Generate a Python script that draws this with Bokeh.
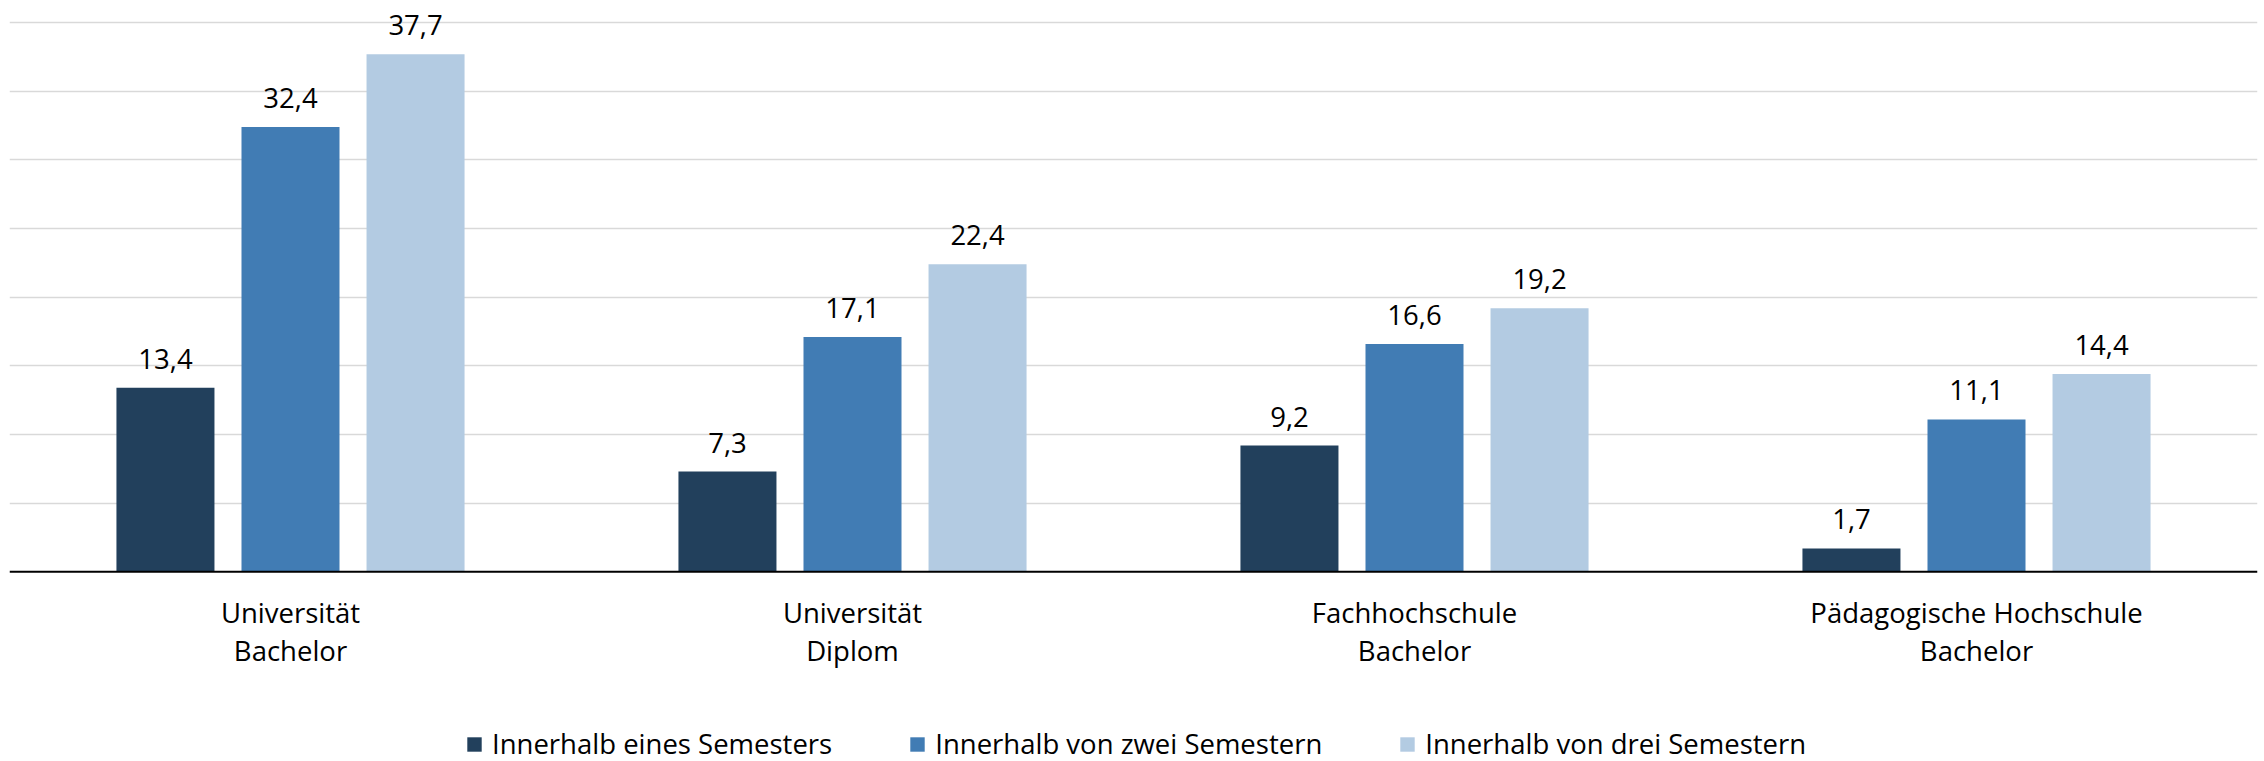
from bokeh.plotting import figure
from bokeh.models import ColumnDataSource, FactorRange, Range1d, FixedTicker, Legend, LegendItem, Grid, Span
from bokeh.transform import dodge
from bokeh.core.properties import value
from bokeh.embed import file_html
from bokeh.resources import INLINE

categories = ["Universität\nBachelor", "Universität\nDiplom", "Fachhochschule\nBachelor", "Pädagogische Hochschule\nBachelor"]
series_names = ["Innerhalb eines Semesters", "Innerhalb von zwei Semestern", "Innerhalb von drei Semestern"]
eines = [13.4, 7.3, 9.2, 1.7]
zwei = [32.4, 17.1, 16.6, 11.1]
drei = [37.7, 22.4, 19.2, 14.4]
grid_ticks = [5, 10, 15, 20, 25, 30, 35, 40]

colors = ["#22405C", "#417CB4", "#B3CBE2"]
FONT = "Open Sans"
FS = "27.5px"

def fmt(vals):
    return [("%.1f" % v).replace(".", ",") for v in vals]

src = ColumnDataSource(dict(cat=categories, zero=[0] * len(categories),
                            s0=eines, s1=zwei, s2=drei,
                            l0=fmt(eines), l1=fmt(zwei), l2=fmt(drei)))

p = figure(x_range=FactorRange(*categories), y_range=Range1d(-13.819, 41.617),
           width=2264, height=761, output_backend="svg", toolbar_location=None,
           x_axis_location=None, y_axis_location=None,
           min_border_left=9, min_border_right=7, min_border_top=0, min_border_bottom=0)

if len(p.ygrid) == 0:
    p.add_layout(Grid(dimension=1, ticker=FixedTicker(ticks=grid_ticks)), "center")
else:
    p.ygrid.ticker = FixedTicker(ticks=grid_ticks)
p.ygrid.grid_line_color = "#D9D9D9"
p.ygrid.grid_line_width = 1.3
p.xgrid.visible = False
p.outline_line_color = None
p.background_fill_color = "white"
p.border_fill_color = "white"

p.add_layout(Span(location=0, dimension="width", line_color="#000000", line_width=2))

offsets = [-0.2225, 0.0, 0.2225]
bar_w = 0.1744
renderers = []
for i, (off, c) in enumerate(zip(offsets, colors)):
    r = p.vbar(x=dodge("cat", off, range=p.x_range), top="s%d" % i, width=bar_w,
               source=src, fill_color=c, line_color=None)
    renderers.append(r)
    p.text(x=dodge("cat", off, range=p.x_range), y="s%d" % i, text="l%d" % i, source=src,
           text_align="center", text_baseline="alphabetic", y_offset=-29,
           text_font=value(FONT), text_font_size=value(FS), text_color="#000000")

# category labels under the baseline
p.text(x="cat", y="zero", text="cat", source=src, text_align="center", text_baseline="top",
       y_offset=22, text_line_height=1.025,
       text_font=value(FONT), text_font_size=value(FS), text_color="#000000")

legend = Legend(items=[LegendItem(label=n, renderers=[r]) for n, r in zip(series_names, renderers)],
                orientation="horizontal", location=(456, -1), glyph_width=18, glyph_height=18,
                label_standoff=9, spacing=76, padding=0, margin=0,
                border_line_color=None, background_fill_alpha=0,
                label_text_font=FONT, label_text_font_size=FS, label_text_color="#000000")
p.add_layout(legend, "center")

open("out.html", "w").write(file_html(p, INLINE))
